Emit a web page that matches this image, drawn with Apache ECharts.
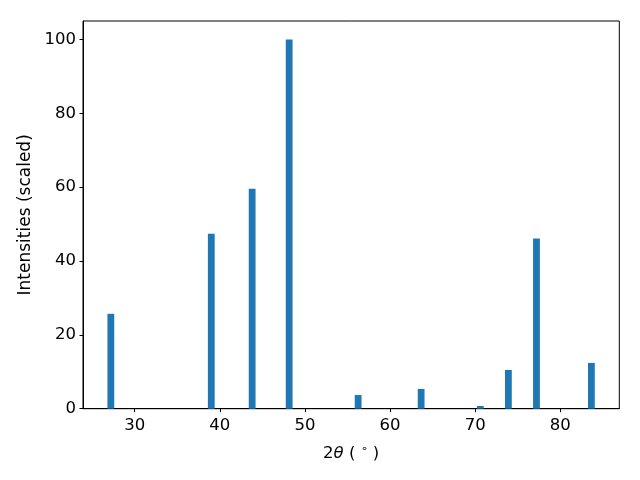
<!DOCTYPE html>
<html><head><meta charset="utf-8">
<script src="https://cdn.jsdelivr.net/npm/echarts@6/dist/echarts.min.js"></script>
<style>html,body{margin:0;padding:0;background:#fff}#c{width:640px;height:480px}</style>
</head><body><div id="c"></div>
<script>
const angles = [27.2, 39.0, 43.8, 48.15, 56.25, 63.65, 70.6, 73.9, 77.2, 83.65];
const intensities = [25.7, 47.4, 59.6, 100, 3.7, 5.35, 0.73, 10.5, 46.1, 12.4];
const xTicks = [30, 40, 50, 60, 70, 80];
const yTicks = [0, 20, 40, 60, 80, 100];

const chart = echarts.init(document.getElementById('c'), null, {renderer: 'canvas'});
const font = 'DejaVu Sans';
const fs = 16.5;
chart.setOption({
  animation: false,
  grid: {left: 83, right: 20.7, top: 21, bottom: 71.3, show: true, borderColor: '#000', borderWidth: 1, backgroundColor: 'transparent'},
  xAxis: {
    type: 'value', min: 23.93, max: 86.93,
    axisLine: {show: true, lineStyle: {color: '#000', width: 1}},
    axisTick: {show: true, length: 3.5, lineStyle: {color: '#000'}, customValues: xTicks},
    axisLabel: {color: '#000', fontFamily: font, fontSize: fs, margin: 9, customValues: xTicks},
    splitLine: {show: false},
    name: '2{i|θ} ( {s|∘} )', nameLocation: 'middle', nameGap: 35,
    nameTextStyle: {color: '#000', fontFamily: font, fontSize: fs,
      rich: {i: {fontStyle: 'italic', fontFamily: font, fontSize: fs, color: '#000'},
             s: {fontSize: 11, fontFamily: font, color: '#000', padding: [0, 0, 9, 0]}}}
  },
  yAxis: {
    type: 'value', min: 0, max: 105,
    axisLine: {show: true, lineStyle: {color: '#000', width: 1}},
    axisTick: {show: true, length: 3.5, lineStyle: {color: '#000'}, customValues: yTicks},
    axisLabel: {color: '#000', fontFamily: font, fontSize: fs, margin: 7, customValues: yTicks},
    splitLine: {show: false},
    name: 'Intensities (scaled)', nameLocation: 'middle', nameGap: 48,
    nameTextStyle: {color: '#000', fontFamily: font, fontSize: 17}
  },
  series: [{
    type: 'bar',
    barWidth: 6.8,
    itemStyle: {color: '#1f77b4'},
    data: angles.map((a, i) => [a, intensities[i]])
  }]
});
</script></body></html>
